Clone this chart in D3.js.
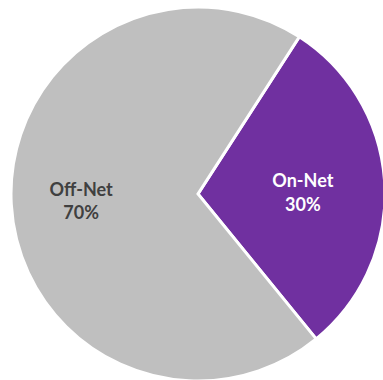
<!DOCTYPE html>
<html>
<head>
<meta charset="utf-8">
<script src="https://cdn.jsdelivr.net/npm/d3@7"></script>
<style>
  html, body { margin: 0; padding: 0; background: #ffffff; }
  svg { display: block; }
</style>
</head>
<body>
<svg id="chart" width="383" height="380"></svg>
<script>
// ---- data ----
const categories = ["On-Net", "Off-Net"];
const values = [30, 70];
const percentLabels = ["30%", "70%"];
const sliceColors = ["#7030A0", "#BFBFBF"];
const labelColors = ["#FFFFFF", "#404040"];

// ---- layout ----
const W = 383, H = 380;
const cx = 198, cy = 194, R = 187;
const startDeg = 32.8;
const labelRadius = [105, 117];
const labelShiftY = [2, -2];

const svg = d3.select("#chart");
const g = svg.append("g").attr("transform", `translate(${cx},${cy})`);

const pie = d3.pie()
  .sort(null)
  .value(d => d.value)
  .startAngle(startDeg * Math.PI / 180)
  .endAngle(startDeg * Math.PI / 180 + 2 * Math.PI);

const data = categories.map((c, i) => ({ name: c, value: values[i], pct: percentLabels[i], i }));
const arcs = pie(data);

const arc = d3.arc().innerRadius(0).outerRadius(R);

g.selectAll("path.slice")
  .data(arcs)
  .enter().append("path")
  .attr("class", "slice")
  .attr("d", arc)
  .attr("fill", d => sliceColors[d.data.i])
  .attr("stroke", "#ffffff")
  .attr("stroke-width", 3)
  .attr("stroke-linejoin", "miter");

const labels = g.selectAll("text.lbl")
  .data(arcs)
  .enter().append("text")
  .attr("class", "lbl")
  .attr("transform", d => {
    const la = d3.arc().innerRadius(labelRadius[d.data.i]).outerRadius(labelRadius[d.data.i]);
    const [x, y] = la.centroid(d);
    return `translate(${x},${y + labelShiftY[d.data.i]})`;
  })
  .attr("text-anchor", "middle")
  .attr("font-family", "Lato, 'Open Sans', sans-serif")
  .attr("font-weight", "bold")
  .attr("font-size", 18)
  .attr("fill", d => labelColors[d.data.i]);

labels.append("tspan").attr("x", 0).attr("dy", "-0.15em").text(d => d.data.name);
labels.append("tspan").attr("x", 0).attr("dy", "1.3em").text(d => d.data.pct);
</script>
</body>
</html>
